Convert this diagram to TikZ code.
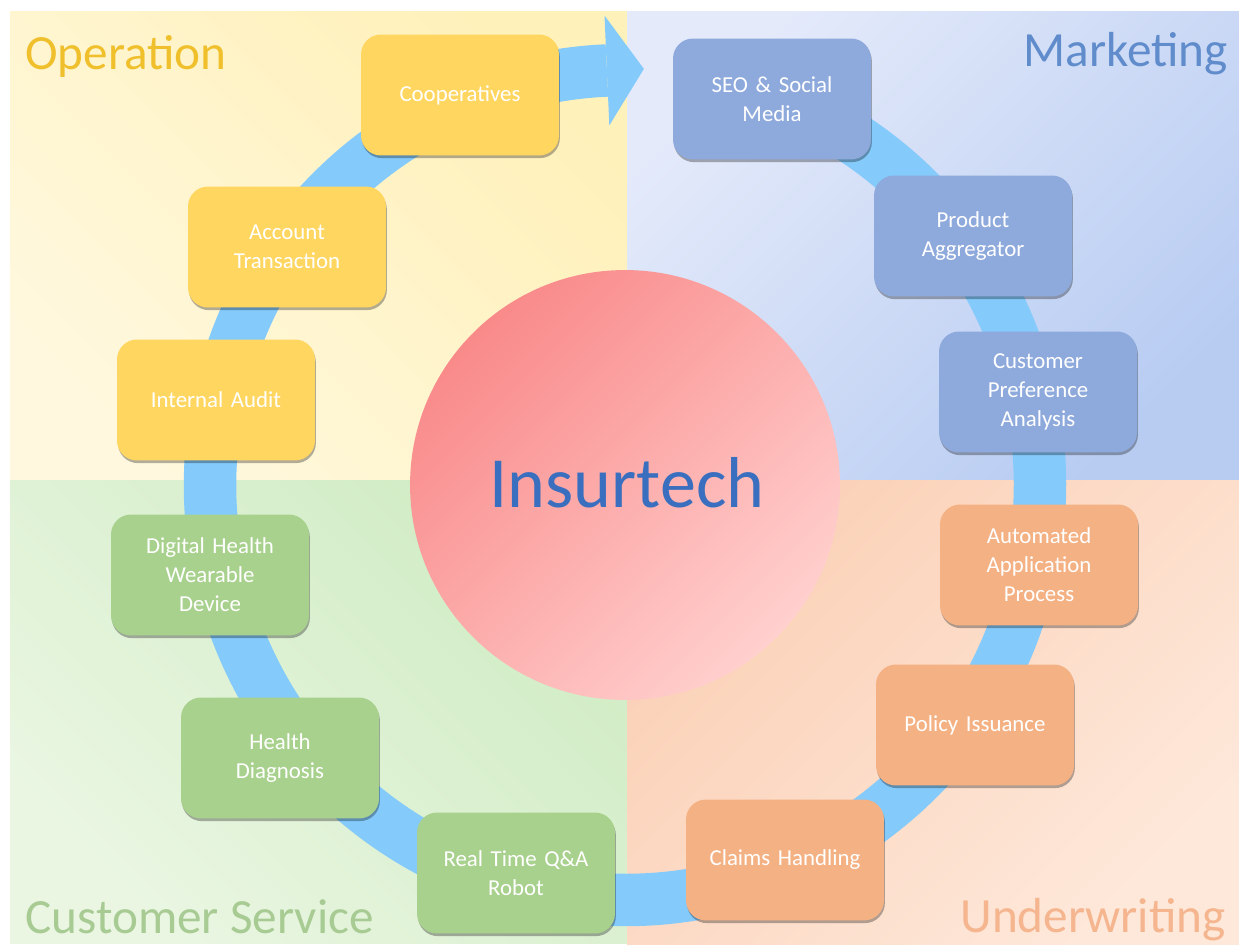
\documentclass[tikz,border=0pt]{standalone}
\usepackage{fontspec}
\setmainfont{Carlito}
\usetikzlibrary{calc,shadows}

\definecolor{ringblue}{RGB}{132,202,251}
\definecolor{boxyellow}{RGB}{255,214,96}
\definecolor{boxblue}{RGB}{142,169,219}
\definecolor{boxgreen}{RGB}{169,209,142}
\definecolor{boxpeach}{RGB}{244,177,131}
\definecolor{opyellowA}{RGB}{255,241,186}
\definecolor{opyellowB}{RGB}{255,248,222}
\definecolor{mkblueA}{RGB}{228,234,250}
\definecolor{mkblueB}{RGB}{184,204,242}
\definecolor{csgreenA}{RGB}{208,236,196}
\definecolor{csgreenB}{RGB}{234,246,226}
\definecolor{uwpeachA}{RGB}{251,208,182}
\definecolor{uwpeachB}{RGB}{254,232,218}
\definecolor{hubA}{RGB}{249,138,138}
\definecolor{hubB}{RGB}{255,208,206}
\definecolor{optext}{RGB}{240,192,44}
\definecolor{mktext}{RGB}{96,140,204}
\definecolor{cstext}{RGB}{168,203,148}
\definecolor{uwtext}{RGB}{245,181,142}
\definecolor{hubtext}{RGB}{58,110,190}

\tikzset{
  stepbox/.style={rounded corners=0.4cm, minimum width=3.96cm, minimum height=2.42cm,
    text width=3.5cm, align=center, text=white, inner sep=0pt,
    font=\fontsize{13}{16.5}\selectfont,
    drop shadow={shadow xshift=0.5pt, shadow yshift=-1.5pt, opacity=0.3, fill=black}},
  quadlabel/.style={inner sep=0pt, font=\fontsize{28}{30}\selectfont},
}

\begin{document}
\begin{tikzpicture}[x=0.02cm, y=-0.02cm]
  % page frame
  \useasboundingbox (0,0) rectangle (1239,945);
  \fill[white] (0,0) rectangle (1239,945);

  % four quadrant panels
  \shade[top color=opyellowA, bottom color=opyellowB, shading angle=-45] (10,12) rectangle (627,480);
  \shade[top color=mkblueA, bottom color=mkblueB, shading angle=45] (627,12) rectangle (1239,480);
  \shade[top color=csgreenA, bottom color=csgreenB, shading angle=-45] (10,480) rectangle (627,943);
  \shade[top color=uwpeachA, bottom color=uwpeachB, shading angle=45] (627,480) rectangle (1239,945);

  % circular process arrow
  \coordinate (C) at (625,485);
  \draw[ringblue, line width=1.05cm] ($(C)+(80:8.3cm)$) arc[start angle=80, end angle=-267.5, radius=8.3cm];
  \coordinate (headA) at ($(C)+(92.5:9.4cm)$);
  \coordinate (headB) at ($(C)+(92.5:7.2cm)$);
  \coordinate (headTip) at ($(C)+(92.5:8.3cm)+(2.5:0.74cm)$);
  \fill[ringblue] (headA) -- (headTip) -- (headB) -- cycle;

  % central hub
  \shade[top color=hubA, bottom color=hubB, shading angle=45] (C) circle[radius=4.3cm];
  \node[font=\fontsize{41}{44}\selectfont, text=hubtext, anchor=base, inner sep=0pt]
    (hub) at (627,507) {Insurtech};

  % Operation
  \node[stepbox, fill=boxyellow] (coop) at (460,95) {Cooperatives};
  \node[stepbox, fill=boxyellow] (acct) at (287,247) {Account\\Transaction};
  \node[stepbox, fill=boxyellow] (audit) at (216,400) {Internal Audit};

  % Customer Service
  \node[stepbox, fill=boxgreen] (wear) at (210,575) {Digital Health\\Wearable\\Device};
  \node[stepbox, fill=boxgreen] (diag) at (280,758) {Health\\Diagnosis};
  \node[stepbox, fill=boxgreen] (robot) at (516,873) {Real Time Q\&A\\Robot};

  % Underwriting
  \node[stepbox, fill=boxpeach] (claims) at (785,860) {Claims Handling};
  \node[stepbox, fill=boxpeach] (policy) at (975,725) {Policy Issuance};
  \node[stepbox, fill=boxpeach] (auto) at (1039,565) {Automated\\Application\\Process};

  % Marketing
  \node[stepbox, fill=boxblue] (pref) at (1038,392) {Customer\\Preference\\Analysis};
  \node[stepbox, fill=boxblue] (aggr) at (973,236) {Product\\Aggregator};
  \node[stepbox, fill=boxblue] (seo) at (772,99) {SEO \& Social\\Media};

  % quadrant titles
  \node[quadlabel, text=optext, anchor=base west] (opl) at (25,70) {Operation};
  \node[quadlabel, text=mktext, anchor=base east] (mkl) at (1228,67) {Marketing};
  \node[quadlabel, text=cstext, anchor=base west] (csl) at (25,933) {Customer Service};
  \node[quadlabel, text=uwtext, anchor=base east] (uwl) at (1226,932) {Underwriting};
\end{tikzpicture}
\end{document}
